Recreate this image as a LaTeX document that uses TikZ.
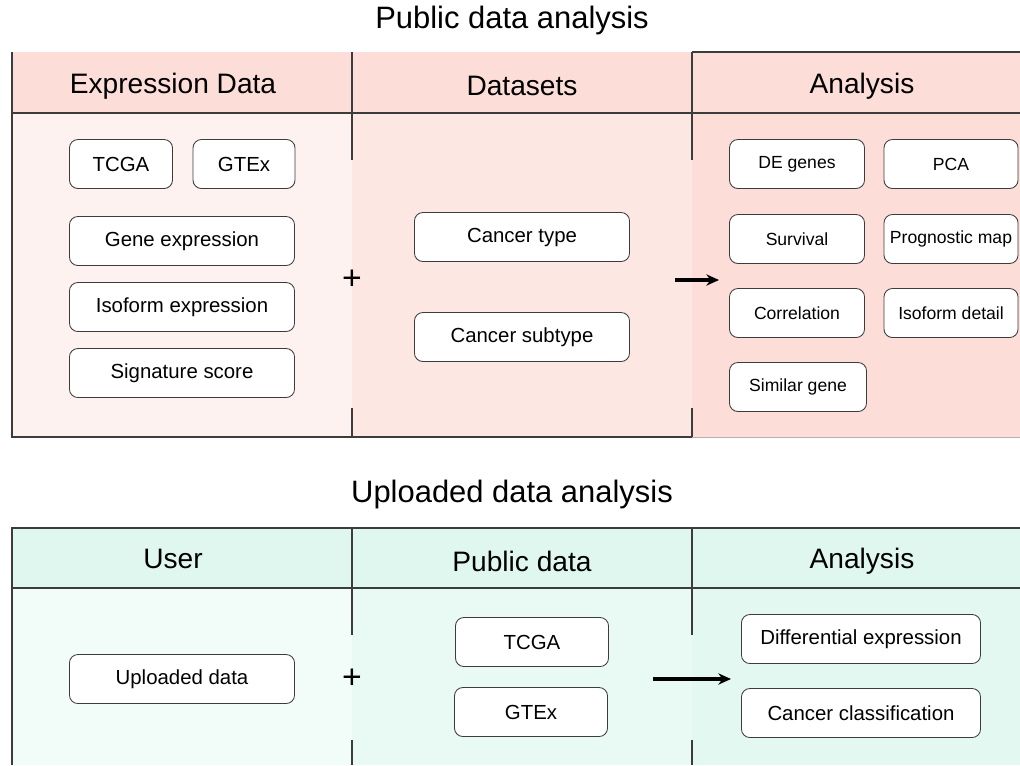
\documentclass[tikz,border=0pt]{standalone}
\usepackage{fontspec}
\setmainfont{Liberation Sans}
\usetikzlibrary{arrows.meta}

\definecolor{pinkhead}{RGB}{252,221,216}
\definecolor{pinkone}{RGB}{254,242,240}
\definecolor{pinktwo}{RGB}{253,231,227}
\definecolor{minthead}{RGB}{224,247,240}
\definecolor{mintone}{RGB}{242,253,250}
\definecolor{minttwo}{RGB}{233,249,244}
\definecolor{mintthree}{RGB}{226,248,241}
\definecolor{rulegray}{RGB}{60,60,60}

\tikzset{
  rule/.style={draw=rulegray, line width=0.9pt},
  title/.style={font=\fontsize{22}{26}\selectfont},
  head/.style={font=\fontsize{20}{24}\selectfont},
  item/.style={draw=rulegray, fill=white, rounded corners=6pt, line width=0.6pt,
    inner sep=0pt, minimum height=1.225cm, font=\fontsize{14.5}{17}\selectfont},
  smallitem/.style={item, font=\fontsize{12.5}{15}\selectfont},
  plus/.style={font=\fontsize{24}{28}\selectfont},
  pointer/.style={line width=2.2pt, -{Stealth[length=9pt,width=8pt]}},
}

\begin{document}
\begin{tikzpicture}[x=0.025cm, y=-0.025cm]
    \useasboundingbox (0,0) rectangle (1020,765);

    % Public data analysis
    \node[title] (pubtitle) at (512,20) {Public data analysis};
    \fill[pinkhead] (12,52) rectangle (1020,113);
    \fill[pinkone] (12,113) rectangle (352,437);
    \fill[pinktwo] (352,113) rectangle (692,437);
    \fill[pinkhead] (692,113) rectangle (1020,437);
    \draw[rule] (12,52) -- (12,437) -- (692,437);
    \draw[draw=gray!60] (692,437) -- (1020,437);
    \draw[rule] (692,52) -- (1020,52);
    \draw[rule] (12,113) -- (1020,113);
    \draw[rule] (352,52) -- (352,160) (352,408) -- (352,437);
    \draw[rule] (692,52) -- (692,160) (692,408) -- (692,437);
    \node[head] (exprhead) at (173,86) {Expression Data};
    \node[head] (sethead) at (522,86) {Datasets};
    \node[head] (anahead) at (862,86) {Analysis};

    % Expression data
    \node[item, minimum width=2.575cm] (tcga) at (121,164) {TCGA};
    \node[item, minimum width=2.55cm] (gtex) at (244,164) {GTEx};
    \node[item, minimum width=5.625cm] (geneexpr) at (182,241) {Gene expression};
    \node[item, minimum width=5.625cm] (isoexpr) at (182,307) {Isoform expression};
    \node[item, minimum width=5.625cm] (sigscore) at (182,373) {Signature score};

    % Datasets
    \node[item, minimum width=5.375cm] (ctype) at (522,237) {Cancer type};
    \node[item, minimum width=5.375cm] (csubtype) at (522,337) {Cancer subtype};
    \node[plus] (plusA) at (352,280) {+};
    \coordinate (arrowAstart) at (675,280);
    \coordinate (arrowAend) at (719,280);
    \draw[pointer] (arrowAstart) -- (arrowAend);

    % Analysis
    \node[smallitem, minimum width=3.375cm] (degenes) at (797,164) {DE genes};
    \node[smallitem, minimum width=3.35cm] (pca) at (951,164) {PCA};
    \node[smallitem, minimum width=3.375cm] (survival) at (797,239) {Survival};
    \node[smallitem, minimum width=3.35cm] (progmap) at (951,239) {Prognostic map};
    \node[smallitem, minimum width=3.375cm] (correl) at (797,313) {Correlation};
    \node[smallitem, minimum width=3.35cm] (isodetail) at (951,313) {Isoform detail};
    \node[smallitem, minimum width=3.425cm] (simgene) at (798,387) {Similar gene};

    % Uploaded data analysis
    \node[title] (uptitle) at (512,494) {Uploaded data analysis};
    \fill[minthead] (12,528) rectangle (1020,588);
    \fill[mintone] (12,588) rectangle (352,765);
    \fill[minttwo] (352,588) rectangle (692,765);
    \fill[mintthree] (692,588) rectangle (1020,765);
    \draw[rule] (12,765) -- (12,528) -- (1020,528);
    \draw[rule] (12,588) -- (1020,588);
    \draw[rule] (352,528) -- (352,635) (352,740) -- (352,765);
    \draw[rule] (692,528) -- (692,635) (692,740) -- (692,765);
    \node[head] (userhead) at (173,559) {User};
    \node[head] (pubhead) at (522,561) {Public data};
    \node[head] (anahead2) at (862,561) {Analysis};

    % User
    \node[item, minimum width=5.625cm] (upload) at (182,679) {Uploaded data};
    \node[plus] (plusB) at (352,679) {+};

    % Public data
    \node[item, minimum width=3.825cm] (tcgaB) at (532,642) {TCGA};
    \node[item, minimum width=3.825cm] (gtexB) at (531,712) {GTEx};
    \coordinate (arrowBstart) at (653,679);
    \coordinate (arrowBend) at (731,679);
    \draw[pointer] (arrowBstart) -- (arrowBend);

    % Analysis
    \node[item, minimum width=5.975cm] (diffexpr) at (861,639) {Differential expression};
    \node[item, minimum width=5.975cm] (cancerclass) at (861,713) {Cancer classification};
\end{tikzpicture}
\end{document}
